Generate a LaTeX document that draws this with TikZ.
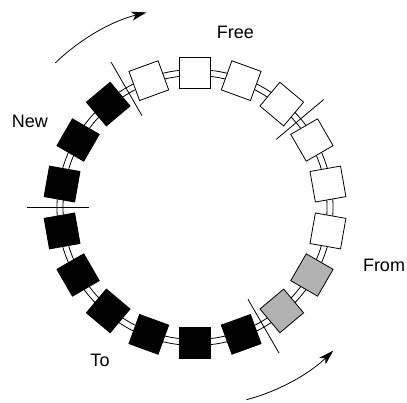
\documentclass[tikz,border=0pt]{standalone}
\usepackage{fontspec}
\setmainfont{Liberation Sans}
\usetikzlibrary{arrows.meta,calc}
\begin{document}
\begin{tikzpicture}[x=1pt,y=1pt,
  box/.style={draw=black,line width=0.8pt,minimum size=31pt,inner sep=0pt},
  wbox/.style={box,fill=white},
  gbox/.style={box,fill=black!30},
  kbox/.style={box,fill=black},
  track/.style={line width=0.8pt},
  sepline/.style={line width=0.8pt},
  lbl/.style={font=\fontsize{18}{20}\selectfont},
  flow/.style={line width=0.8pt,-{Stealth[length=15pt,width=9pt,inset=4pt]}}]
\useasboundingbox (0,0) rectangle (407,402);
\clip (0,0) rectangle (407,402);
\coordinate (c) at (195,194.5);
\draw[track] (c) circle[radius=138];
\draw[track] (c) circle[radius=132];
\foreach \a/\s [count=\i] in {90/wbox,70/wbox,50/wbox,30/wbox,10/wbox,-10/wbox,-30/gbox,-50/gbox,-70/kbox,-90/kbox,-110/kbox,-130/kbox,-150/kbox,-170/kbox,170/kbox,150/kbox,130/kbox,110/wbox}
  \node[\s,rotate=\a] (s\i) at ($(c)+(\a:135)$) {};
\foreach \a [count=\i] in {120,40,180,-60}{
  \coordinate (p\i) at ($(c)+(\a:106)$);
  \coordinate (q\i) at ($(c)+(\a:168)$);
  \draw[sepline] (p\i) -- (q\i);
}
\node[lbl] (free) at (235.5,370) {Free};
\node[lbl] (new) at (30,280.7) {New};
\node[lbl] (from) at (384,136.7) {From};
\node[lbl] (to) at (100,42) {To};
\coordinate (a1) at ($(c)+(134:201)$);
\draw[flow] (a1) arc[start angle=134,end angle=104,radius=201];
\coordinate (a2) at ($(c)+(-75:199)$);
\draw[flow] (a2) arc[start angle=-75,end angle=-46,radius=199];
\end{tikzpicture}
\end{document}
